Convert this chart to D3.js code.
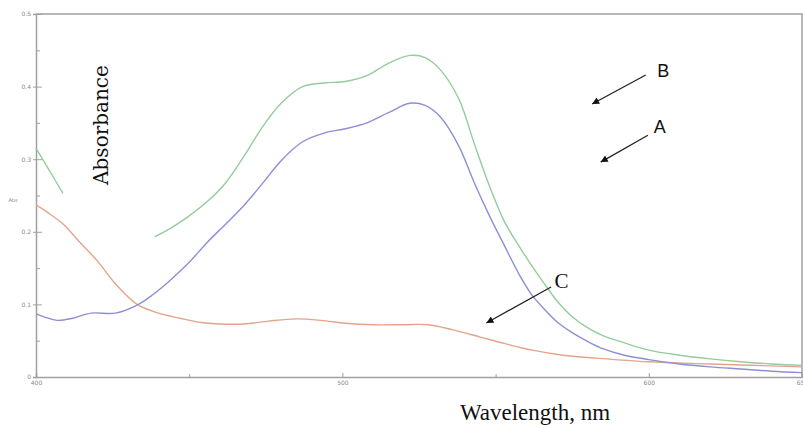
<!DOCTYPE html>
<html>
<head>
<meta charset="utf-8">
<script src="https://cdn.jsdelivr.net/npm/d3@7"></script>
<style>
  body { margin: 0; background: #fff; }
  svg { display: block; }
</style>
</head>
<body>
<script>
// spectra (wavelength nm, absorbance)
const wlA = [400, 404, 407, 412, 418, 426, 433, 438, 444, 450, 456, 462, 468, 474, 480, 487, 494, 501, 508, 515, 522, 527, 532, 538, 543, 548, 553, 558, 562, 566, 570, 575, 580, 585, 592, 600, 610, 620, 630, 640, 650]
const absA = [0.087, 0.081, 0.078, 0.081, 0.088, 0.088, 0.099, 0.113, 0.134, 0.158, 0.186, 0.211, 0.237, 0.267, 0.298, 0.324, 0.336, 0.342, 0.350, 0.364, 0.377, 0.374, 0.358, 0.318, 0.268, 0.222, 0.180, 0.139, 0.112, 0.093, 0.076, 0.061, 0.049, 0.039, 0.030, 0.024, 0.018, 0.014, 0.011, 0.008, 0.006]

// curve B is broken where the axis title sits
const wlB = [400, 404, 408.8, 420, 438.7, 444, 450, 456, 462, 468, 474, 480, 487, 494, 501, 508, 515, 522, 527, 532, 538, 543, 548, 553, 558, 562, 566, 570, 575, 580, 585, 592, 600, 610, 620, 630, 640, 650]
const absB = [0.315, 0.287, 0.253, null, 0.193, 0.205, 0.222, 0.242, 0.268, 0.305, 0.345, 0.377, 0.400, 0.405, 0.407, 0.415, 0.432, 0.443, 0.440, 0.423, 0.383, 0.322, 0.263, 0.213, 0.178, 0.152, 0.128, 0.105, 0.083, 0.068, 0.057, 0.047, 0.037, 0.030, 0.025, 0.021, 0.018, 0.016]

const wlC = [400, 404, 409, 414, 420, 426, 433, 440, 447, 454, 460, 468, 476, 485, 493, 501, 510, 520, 528, 536, 545, 553, 562, 572, 583, 600, 620, 650]
const absC = [0.237, 0.226, 0.210, 0.187, 0.160, 0.128, 0.100, 0.088, 0.081, 0.075, 0.073, 0.073, 0.077, 0.080, 0.078, 0.074, 0.072, 0.072, 0.072, 0.065, 0.055, 0.046, 0.037, 0.030, 0.026, 0.021, 0.018, 0.014]

const xTicks = [400, 500, 600, 650]
const xMinor = [450, 550]
const yTicks = [0, 0.1, 0.2, 0.3, 0.4, 0.5]
const yMinor = [0.05, 0.15, 0.25, 0.35, 0.45]

// annotation labels: [label, text wl, text abs, arrow start wl, abs, arrow tip wl, abs]
const notes = [
    ["B", 604.7, 0.413, 599, 0.416, 581.5, 0.376],
    ["A", 603.6, 0.336, 599.7, 0.333, 584.3, 0.296],
    ["C", 571.5, 0.1226, 568.1, 0.124, 547, 0.0744]
]

let width = 803, height = 428

const svg = d3.select("body").append("svg")
    .attr("width", width)
    .attr("height", height)

const x = d3.scaleLinear().domain([400, 650]).range([36, 802])
const y = d3.scaleLinear().domain([0, 0.5]).range([377, 14])

const grey = "#a0a0a0"

// frame
svg.append("path")
    .attr("d", `M${x(400)},${y(0.5)}H${x(650)}V${y(0)}`)
    .attr("fill", "none")
    .attr("stroke", grey)
    .attr("stroke-width", 1.5)

const yAxis = svg.append("g")
    .attr("transform", `translate(${x(400)},0)`)
    .call(d3.axisLeft(y).tickValues(yTicks).tickFormat(d => d === 0 ? "0" : d3.format(".1f")(d)).tickSize(3).tickPadding(2))
yAxis.selectAll(".tick line").attr("x2", 6).attr("x1", -3)
svg.append("g")
    .attr("transform", `translate(${x(400)},0)`)
    .call(d3.axisRight(y).tickValues(yMinor).tickFormat("").tickSize(4))
    .select(".domain").remove()

const xAxis = svg.append("g")
    .attr("transform", `translate(0,${y(0)})`)
    .call(d3.axisBottom(x).tickValues(xTicks).tickFormat(d3.format("d")).tickSize(-4).tickPadding(4))
svg.append("g")
    .attr("transform", `translate(0,${y(0)})`)
    .call(d3.axisTop(x).tickValues(xMinor).tickFormat("").tickSize(3))
    .select(".domain").remove()

svg.selectAll(".domain").attr("stroke", grey).attr("stroke-width", 1.5)
svg.selectAll(".tick line").attr("stroke", grey)
svg.selectAll(".tick text")
    .attr("fill", "#888")
    .style("font-family", "DejaVu Sans")
    .style("font-size", "6px")

svg.append("text")
    .attr("x", 13).attr("y", 202)
    .attr("text-anchor", "middle")
    .attr("fill", "#888")
    .style("font-family", "DejaVu Sans")
    .style("font-size", "5px")
    .text("Abs")

// spectra
const line = d3.line()
    .defined(d => d[1] !== null)
    .x(d => x(d[0]))
    .y(d => y(d[1]))
    .curve(d3.curveCatmullRom.alpha(0.5))

const series = [
    {wl: wlC, ab: absC, color: "#e4a48c"},
    {wl: wlA, ab: absA, color: "#8e8ed8"},
    {wl: wlB, ab: absB, color: "#94cc9c"}
]

series.forEach(s => {
    svg.append("path")
        .datum(s.wl.map((w, i) => [w, s.ab[i]]))
        .attr("fill", "none")
        .attr("stroke", s.color)
        .attr("stroke-width", 1.4)
        .attr("d", line)
})

// arrows
svg.append("defs").append("marker")
    .attr("id", "head")
    .attr("viewBox", "0 0 10 10")
    .attr("refX", 10).attr("refY", 5)
    .attr("markerWidth", 10).attr("markerHeight", 7)
    .attr("markerUnits", "userSpaceOnUse")
    .attr("orient", "auto")
    .append("path")
    .attr("d", "M0,0L10,5L0,10z")
    .attr("fill", "#111")

notes.forEach(n => {
    svg.append("line")
        .attr("x1", x(n[3])).attr("y1", y(n[4]))
        .attr("x2", x(n[5])).attr("y2", y(n[6]))
        .attr("stroke", "#222")
        .attr("stroke-width", 1.3)
        .attr("marker-end", "url(#head)")
    svg.append("text")
        .attr("x", x(n[1])).attr("y", y(n[2]))
        .attr("text-anchor", "middle")
        .attr("fill", "#111")
        .style("font-family", n[0] === "C" ? "Liberation Serif" : "Liberation Sans")
        .style("font-size", n[0] === "C" ? "21px" : "18px")
        .text(n[0])
})

// axis titles
svg.append("text")
    .attr("transform", "translate(108,125) rotate(-90)")
    .attr("text-anchor", "middle")
    .attr("fill", "#111")
    .style("font-family", "DejaVu Serif")
    .style("font-size", "20px")
    .text("Absorbance")

svg.append("text")
    .attr("x", 535).attr("y", 420)
    .attr("text-anchor", "middle")
    .attr("fill", "#111")
    .style("font-family", "Liberation Serif")
    .style("font-size", "23px")
    .text("Wavelength, nm")
</script>
</body>
</html>
